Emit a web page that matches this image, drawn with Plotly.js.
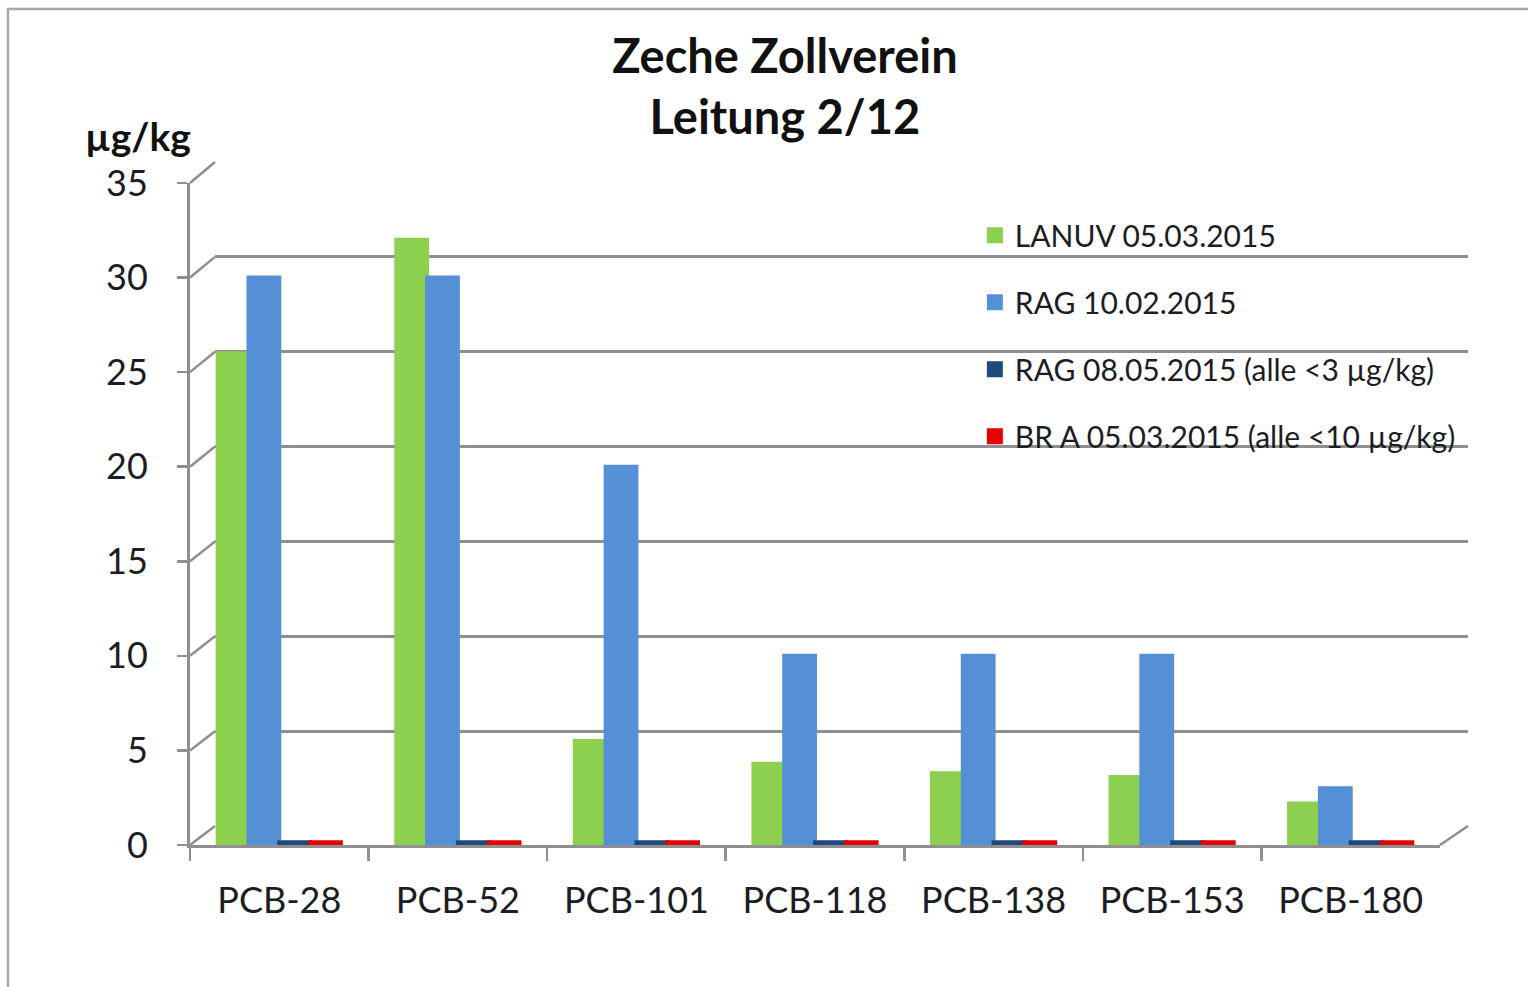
<!DOCTYPE html>
<html><head><meta charset="utf-8">
<script src="https://cdn.plot.ly/plotly-3.0.1.min.js"></script>
<style>html,body{margin:0;padding:0;background:#fff}#chart{width:1528px;height:987px}</style>
</head><body><div id="chart"></div>
<script>
const categories = ['PCB-28','PCB-52','PCB-101','PCB-118','PCB-138','PCB-153','PCB-180'];
const seriesNames = ['LANUV 05.03.2015','RAG 10.02.2015','RAG 08.05.2015 (alle <3 µg/kg)','BR A 05.03.2015 (alle <10 µg/kg)'];
const lanuv = [26, 32, 5.5, 4.3, 3.8, 3.6, 2.2];
const rag0210 = [30, 30, 20, 10, 10, 10, 3];
const rag0805 = [0.15, 0.15, 0.15, 0.15, 0.15, 0.15, 0.15];
const bra = [0.15, 0.15, 0.15, 0.15, 0.15, 0.15, 0.15];
const yTicks = [0,5,10,15,20,25,30,35];

const colors = ['#8dcf4f','#5590d6','#1f497d','#e60000'];
const values = [lanuv, rag0210, rag0805, bra];
const FONT = 'Lato, "Open Sans", sans-serif';
const TXT = '#1c1c24';
const GRID = '#8f8f8f';

const frontX = [0.12435, 0.94241], frontY = [0.14387, 0.81459];
const backX = [0.14071, 0.96073], backY = [0.16312, 0.83587];

const traces = [{x:[0,1], y:[null,null], xaxis:'x', yaxis:'y', type:'scatter', mode:'lines', showlegend:false, hoverinfo:'skip'}];
values.forEach((v,i)=>{
  traces.push({type:'bar', x:categories, y:v, name:seriesNames[i], xaxis:'x2', yaxis:'y2',
    marker:{color:colors[i], line:{color:colors[i], width:4}}, legendgroup:'g'+i});
});

const shapes = [{type:'rect', xref:'paper', yref:'paper', x0:0.0052, x1:1.02, y0:-0.02, y1:0.9909,
  line:{color:'#a8a8a8', width:2.5}, fillcolor:'rgba(0,0,0,0)'}];
yTicks.forEach(t=>{
  const yf = frontY[0] + t/35*(frontY[1]-frontY[0]);
  const yb = backY[0] + t/35*(backY[1]-backY[0]);
  shapes.push({type:'line', xref:'paper', yref:'paper', x0:frontX[0], y0:yf, x1:backX[0], y1:yb, line:{color:GRID, width:2.5}});
});
shapes.push({type:'line', xref:'paper', yref:'paper', x0:frontX[1], y0:frontY[0], x1:backX[1], y1:backY[0], line:{color:GRID, width:2.5}});

const layout = {
  width:1528, height:987,
  margin:{l:0,r:0,t:0,b:0, autoexpand:false},
  paper_bgcolor:'#ffffff', plot_bgcolor:'rgba(0,0,0,0)',
  font:{family:FONT, color:TXT},
  title:{text:'<b>Zeche Zollverein</b><br><b>Leitung 2/12</b>', x:0.5137, xanchor:'center', y:0.926, yanchor:'top',
    font:{family:FONT, size:47, color:'#111111'}},
  barmode:'group', bargap:0.31, bargroupgap:0,
  showlegend:true,
  legend:{x:0.638, xanchor:'left', y:0.788, yanchor:'top', traceorder:'grouped', tracegroupgap:25,
    font:{family:FONT, size:30, color:TXT}, bgcolor:'rgba(0,0,0,0)'},
  xaxis:{domain:backX, anchor:'y', range:[0,1], visible:false, showgrid:false, zeroline:false},
  yaxis:{domain:backY, anchor:'x', range:[0,35], dtick:5, showgrid:true, gridcolor:GRID, gridwidth:3,
    showticklabels:false, ticks:'', zeroline:false, showline:false},
  xaxis2:{domain:frontX, anchor:'y2', type:'category', range:[-0.5,6.5], tickson:'boundaries', ticks:'outside',
    ticklen:13, tickwidth:2.5, tickcolor:GRID, showline:true, linecolor:GRID, linewidth:3, showgrid:false,
    tickfont:{family:FONT, size:36, color:TXT}, ticklabelstandoff:22},
  yaxis2:{domain:frontY, anchor:'x2', range:[0,35], tickvals:yTicks, ticks:'outside', ticklen:10, tickwidth:2.5,
    tickcolor:GRID, showline:true, linecolor:GRID, linewidth:3, showgrid:false, zeroline:false,
    tickfont:{family:FONT, size:36, color:TXT}, ticklabelstandoff:22},
  annotations:[{text:'<b>µg/kg</b>', xref:'paper', yref:'paper', x:0.0546, y:0.862, xanchor:'left', yanchor:'middle',
    showarrow:false, font:{family:FONT, size:39, color:'#111111'}}],
  shapes:shapes
};
Plotly.newPlot('chart', traces, layout, {displayModeBar:false, staticPlot:true});
</script></body></html>
